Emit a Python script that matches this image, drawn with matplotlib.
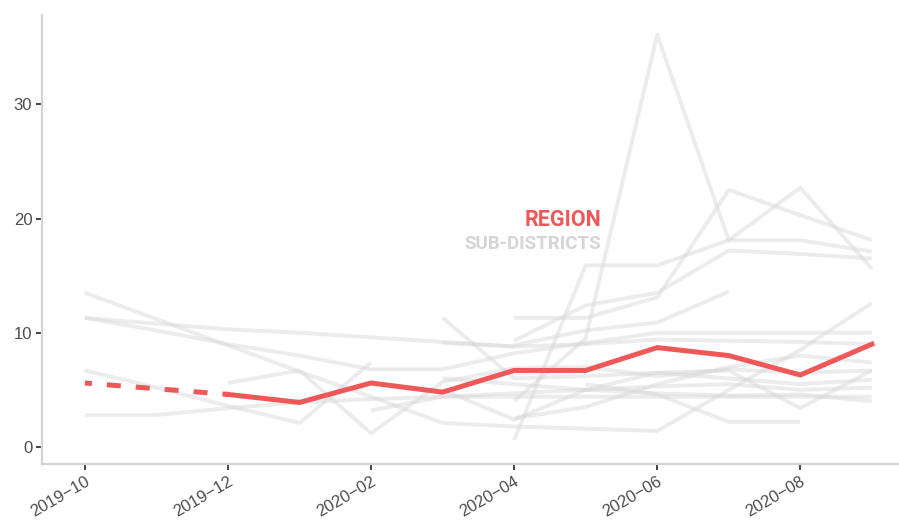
import matplotlib.pyplot as plt
import numpy as np

plt.rcParams["font.family"] = ["Liberation Sans Narrow", "Liberation Sans", "DejaVu Sans"]

# months 2019-10 .. 2020-09
months = ["2019-10", "2019-11", "2019-12", "2020-01", "2020-02", "2020-03",
          "2020-04", "2020-05", "2020-06", "2020-07", "2020-08", "2020-09"]
tick_labels = ["2019\u221210", "2019\u221212", "2020\u221202",
               "2020\u221204", "2020\u221206", "2020\u221208"]

region = [5.6, None, 4.6, 3.9, 5.6, 4.8, 6.7, 6.7, 8.7, 8.0, 6.3, 9.0]

N = None
sub_districts = [
    [13.5, 11.2, 8.9, 6.6, 4.4, 2.1, 1.8, 1.6, 1.4, 5.0, 8.5, 12.6],
    [11.3, 10.8, 10.3, 10.0, 9.6, 9.2, 8.8, N, N, N, N, N],
    [11.3, 10.2, 9.0, 8.0, 6.8, 6.8, 8.2, 9.1, 10.0, 10.0, 10.0, 10.0],
    [6.7, 5.2, 3.6, 2.1, 7.4, N, N, N, N, N, N, N],
    [N, N, 5.6, 6.7, 1.2, 5.7, 6.9, 7.0, 6.2, 6.8, 6.5, 6.7],
    [2.8, 2.8, 3.4, 3.9, 4.2, 4.4, 4.4, 4.4, 4.4, 4.4, 4.4, 4.4],
    [N, N, N, N, N, 11.3, 6.0, 6.2, 6.5, 6.7, 3.4, 6.7],
    [N, N, N, N, N, 9.1, 8.8, 9.0, 9.4, 9.3, 9.2, 9.0],
    [N, N, N, N, N, N, 4.0, 9.5, 36.1, 18.1, 18.1, 17.1],
    [N, N, N, N, N, N, 0.6, 15.9, 15.9, 18.1, 22.7, 15.6],
    [N, N, N, N, N, N, 11.3, 11.3, 13.1, 22.5, 20.3, 18.1],
    [N, N, N, N, N, N, 9.3, 12.4, 13.5, 17.2, 16.9, 16.5],
    [N, N, N, N, N, N, 8.9, 10.2, 10.9, 13.6, N, N],
    [N, N, N, N, N, N, N, 5.5, 4.6, 2.2, 2.2, N],
    [N, N, N, N, 3.2, 4.4, 4.7, 5.0, 5.3, 5.5, 5.0, 5.2],
    [N, N, N, N, N, 6.0, 5.5, 5.0, 4.7, 4.5, 4.6, 4.0],
    [N, N, N, N, N, N, 2.5, 3.5, 5.5, 7.0, 8.0, 7.4],
    [N, N, N, N, N, 5.0, 2.4, 5.0, 6.5, 6.0, 5.5, 5.9],
]

red = "#EF5858"
grey_line = "#D6D6D6"
text_col = "#4D4D4D"

fig = plt.figure(figsize=(8.99, 5.25), dpi=100)
ax = fig.add_axes([0.0467, 0.116, 0.9533, 0.855])

x = np.arange(len(months))

for s in sub_districts:
    y = np.array([np.nan if v is None else v for v in s], dtype=float)
    ax.plot(x, y, color=grey_line, alpha=0.45, lw=2.8, solid_capstyle="butt", zorder=1)

r = np.array([np.nan if v is None else v for v in region], dtype=float)
ax.plot(x, r, color=red, lw=3.6, solid_joinstyle="miter", zorder=3)
# dashed bridge across the missing month
valid = np.where(~np.isnan(r))[0]
i0, i1 = valid[0], valid[1]
ax.plot([x[i0], x[i1]], [r[i0], r[i1]], color=red, lw=3.6, ls=(1.4, (2.8, 3.0)),
        dash_capstyle="butt", zorder=3)

ax.text(7.22, 19.9, "REGION", color=red, fontsize=15.5, fontweight="bold",
        ha="right", va="center", family=["Roboto", "DejaVu Sans"])
ax.text(7.22, 17.75, "SUB-DISTRICTS", color="#D5D5D5", fontsize=13.5, fontweight="bold",
        ha="right", va="center", family=["Roboto", "DejaVu Sans"])

ax.set_xlim(-0.6, 11.38)
ax.set_ylim(-1.5, 37.8)
ax.set_xticks(x[::2])
ax.set_xticklabels(tick_labels, rotation=30, ha="right", rotation_mode="anchor",
                   fontsize=12, color=text_col)
ax.set_yticks([0, 10, 20, 30])
ax.set_yticklabels(["0", "10", "20", "30"], fontsize=12, color=text_col)
ax.tick_params(axis="both", length=4, width=1.3, color="#333333", pad=3)

for side in ["top", "right"]:
    ax.spines[side].set_visible(False)
for side in ["left", "bottom"]:
    ax.spines[side].set_color("#D3D3D3")
    ax.spines[side].set_linewidth(1.6)

fig.savefig("out.png", dpi=100)
